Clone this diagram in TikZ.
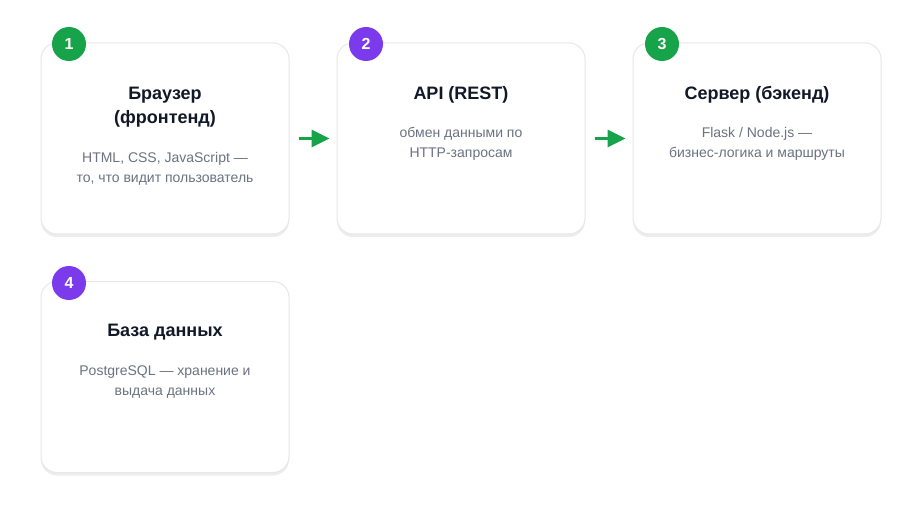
\documentclass[tikz,border=0pt]{standalone}
\usepackage{fontspec}
\setmainfont{Liberation Sans}
\usetikzlibrary{arrows.meta, positioning, shadows}
\definecolor{stgreen}{HTML}{16A34A}
\definecolor{stpurple}{HTML}{7C3AED}
\definecolor{dkink}{HTML}{111827}
\definecolor{wmgray}{HTML}{6B7280}
\definecolor{border}{HTML}{E5E7EB}

\begin{document}
\begin{tikzpicture}[
  x=1pt, y=-1pt,
  >={Triangle[length=18pt, width=17pt]},
  card/.style={draw=border, line width=1pt, fill=white, rounded corners=16pt,
    minimum width=248pt, minimum height=191pt, inner sep=0pt,
    drop shadow={shadow xshift=0pt, shadow yshift=-3pt, opacity=0.07, fill=black}},
  badge/.style={circle, fill=#1, minimum size=34pt, inner sep=0pt,
    text=white, font=\fontsize{16}{19}\selectfont\bfseries},
  title/.style={align=center, text=dkink, font=\fontsize{18}{24}\selectfont\bfseries},
  desc/.style={align=center, text=wmgray, font=\fontsize{14}{20}\selectfont},
  flow/.style={->, stgreen, line width=3pt, shorten <=9pt, shorten >=7pt},
]

% Background
\useasboundingbox (0,0) rectangle (922,516);
\fill[white] (0,0) rectangle (922,516);

% === Cards ===
\node[card] (browser) at (165,138.5) {};
\node[card] (api)     at (461,138.5) {};
\node[card] (server)  at (757,138.5) {};
\node[card] (db)      at (165,377)   {};

% === Texts ===
\node[title] (browser-title) at (165,107) {Браузер\\(фронтенд)};
\node[desc]  (browser-desc)  at (165,169) {HTML, CSS, JavaScript —\\то, что видит пользователь};

\node[title] (api-title) at (461,95)  {API (REST)};
\node[desc]  (api-desc)  at (461,144) {обмен данными по\\HTTP-запросам};

\node[title] (server-title) at (757,95)  {Сервер (бэкенд)};
\node[desc]  (server-desc)  at (757,144) {Flask / Node.js —\\бизнес-логика и маршруты};

\node[title] (db-title) at (165,332) {База данных};
\node[desc]  (db-desc)  at (165,382) {PostgreSQL — хранение и\\выдача данных};

% === Step badges ===
\node[badge=stgreen]  (step1) at (69,44)  {1};
\node[badge=stpurple] (step2) at (366,44) {2};
\node[badge=stgreen]  (step3) at (662,44) {3};
\node[badge=stpurple] (step4) at (69,283) {4};

% === Arrows ===
\draw[flow] (browser.east) -- (api.west);
\draw[flow] (api.east) -- (server.west);

\end{tikzpicture}
\end{document}
